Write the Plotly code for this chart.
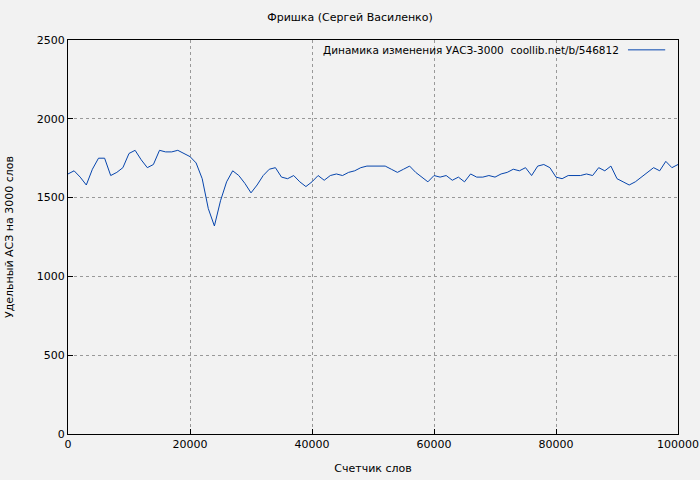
import plotly.graph_objects as go

words = list(range(0, 101000, 1000))
values = [1650,1670,1630,1580,1680,1750,1750,1640,1660,1690,
          1780,1800,1740,1690,1710,1800,1790,1790,1800,1780,
          1760,1720,1620,1430,1320,1480,1600,1670,1640,1590,
          1530,1580,1640,1680,1690,1630,1620,1640,1600,1570,
          1600,1640,1610,1640,1650,1640,1660,1670,1690,1700,
          1700,1700,1700,1680,1660,1680,1700,1660,1630,1600,
          1640,1630,1640,1610,1630,1600,1650,1630,1630,1640,
          1630,1650,1660,1680,1670,1690,1640,1700,1710,1690,
          1630,1620,1640,1640,1640,1650,1640,1690,1670,1700,
          1620,1600,1580,1600,1630,1660,1690,1670,1730,1690,1710]
legend_text = "Динамика изменения УАСЗ-3000  coollib.net/b/546812"
line_color = "#0645ad"

fig = go.Figure(go.Scatter(x=words, y=values, mode="lines",
    line=dict(color=line_color, width=1), name=legend_text, showlegend=False))

ax = dict(showline=True, linecolor="black", linewidth=1, mirror=True,
          showgrid=True, gridcolor="#999999", griddash="dot", gridwidth=1,
          ticks="inside", ticklen=5, tickcolor="black", zeroline=False,
          automargin=False, tickformat="d")
fig.update_layout(
    width=700, height=480, paper_bgcolor="#f2f2f2", plot_bgcolor="#f2f2f2",
    margin=dict(l=68, r=22, t=40, b=46),
    font=dict(family="DejaVu Sans", size=11, color="black"),
    title=dict(text="Фришка (Сергей Василенко)", x=0.5, y=0.972, xanchor="center", font=dict(size=11)),
    xaxis=dict(ax, range=[0, 100000], dtick=20000, title=dict(text="Счетчик слов", standoff=14, font=dict(size=11))),
    yaxis=dict(ax, range=[0, 2500], dtick=500, title=dict(text="Удельный АСЗ на 3000 слов", standoff=20, font=dict(size=11))),
)
fig.add_annotation(xref="paper", yref="paper", x=0.907, y=0.975, xanchor="right", yanchor="middle",
                   text=legend_text, showarrow=False, font=dict(size=10.5))
fig.add_shape(type="line", xref="paper", yref="paper", x0=0.918, x1=0.979, y0=0.975, y1=0.975,
              line=dict(color=line_color, width=1))
fig.write_html("out.html", config={"displayModeBar": False},
               post_script="document.body.style.margin='0';document.body.style.background='#f2f2f2';")
